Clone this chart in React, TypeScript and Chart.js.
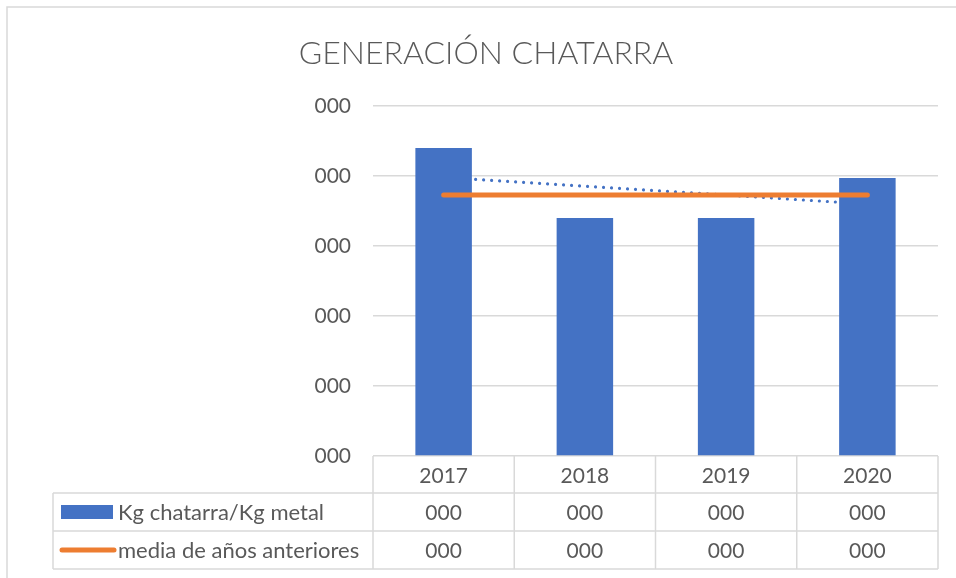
import React, { useEffect, useRef } from "react";
import { Chart, registerables } from "chart.js";

Chart.register(...registerables);

const titleText = "GENERACIÓN CHATARRA";
const categories = ["2017", "2018", "2019", "2020"];
const seriesNames = ["Kg chatarra/Kg metal", "media de años anteriores"];
const scrapValues = [4.4, 3.4, 3.4, 3.97];
const meanValues = [3.73, 3.73, 3.73, 3.73];
const trendValues = [3.98, null, null, 3.6];
const yTickLabel = "000";
const scrapTableLabels = ["000", "000", "000", "000"];
const meanTableLabels = ["000", "000", "000", "000"];

const BLUE = "#4472C4";
const ORANGE = "#ED7D31";
const TEXT = "#595959";
const GRID = "#D9D9D9";
const FONT = "Lato, 'Open Sans', sans-serif";

const tablePlugin = {
  id: "dataTable",
  afterDraw(chart: any) {
    const ctx = chart.ctx as CanvasRenderingContext2D;
    const { left, right, bottom } = chart.chartArea;
    const n = categories.length;
    const colW = (right - left) / n;
    const headerH = 37;
    const rowH = 38;
    const tableLeft = 53;
    const r1 = bottom + headerH;
    const r2 = r1 + rowH;
    const r3 = r2 + rowH;
    ctx.save();
    ctx.strokeStyle = GRID;
    ctx.lineWidth = 1.5;
    const hl = (x1: number, x2: number, y: number) => {
      ctx.beginPath();
      ctx.moveTo(x1, y);
      ctx.lineTo(x2, y);
      ctx.stroke();
    };
    const vl = (x: number, y1: number, y2: number) => {
      ctx.beginPath();
      ctx.moveTo(x, y1);
      ctx.lineTo(x, y2);
      ctx.stroke();
    };
    hl(tableLeft, right, r1);
    hl(tableLeft, right, r2);
    hl(tableLeft, right, r3);
    vl(tableLeft, r1, r3);
    for (let i = 0; i <= n; i++) vl(left + i * colW, bottom, r3);

    // outer chart frame
    ctx.beginPath();
    ctx.moveTo(7, chart.height + 5);
    ctx.lineTo(7, 7);
    ctx.lineTo(chart.width + 5, 7);
    ctx.stroke();

    const c1 = (r1 + r2) / 2 + 1;
    const c2 = (r2 + r3) / 2 + 1;
    // legend keys
    ctx.fillStyle = BLUE;
    ctx.fillRect(tableLeft + 8, c1 - 8, 52, 14);
    ctx.strokeStyle = ORANGE;
    ctx.lineWidth = 5;
    ctx.lineCap = "round";
    hl(tableLeft + 9, tableLeft + 61, c2 - 1);

    ctx.fillStyle = TEXT;
    ctx.textBaseline = "middle";
    ctx.textAlign = "left";
    ctx.font = `22px ${FONT}`;
    ctx.fillText(seriesNames[0], tableLeft + 65, c1);
    ctx.fillText(seriesNames[1], tableLeft + 65, c2);
    ctx.font = `21px ${FONT}`;
    ctx.textAlign = "center";
    for (let i = 0; i < n; i++) {
      const cx = left + (i + 0.5) * colW;
      ctx.fillText(scrapTableLabels[i], cx, c1);
      ctx.fillText(meanTableLabels[i], cx, c2);
    }
    ctx.restore();
  },
};

export default function App() {
  const ref = useRef<HTMLCanvasElement | null>(null);
  useEffect(() => {
    if (!ref.current) return;
    const chart = new Chart(ref.current, {
      type: "bar",
      data: {
        labels: categories,
        datasets: [
          {
            type: "line",
            label: "Lineal (Kg chatarra/Kg metal)",
            data: trendValues as any,
            borderColor: BLUE,
            borderWidth: 3.2,
            borderDash: [0.01, 8],
            borderCapStyle: "round",
            pointRadius: 0,
            spanGaps: true,
            fill: false,
            order: 3,
          } as any,
          {
            type: "bar",
            label: seriesNames[0],
            data: scrapValues,
            backgroundColor: BLUE,
            categoryPercentage: 1,
            barPercentage: 0.4,
            order: 2,
          },
          {
            type: "line",
            label: seriesNames[1],
            data: meanValues,
            borderColor: ORANGE,
            borderWidth: 5,
            borderCapStyle: "round",
            pointRadius: 0,
            fill: false,
            order: 1,
          } as any,
        ],
      },
      options: {
        responsive: false,
        animation: false,
        layout: { padding: { left: 34, right: 18, top: 0, bottom: 0 } },
        plugins: {
          legend: { display: false },
          tooltip: { enabled: false },
          title: {
            display: true,
            text: titleText,
            color: TEXT,
            font: { family: FONT, size: 32, weight: 300 as any, lineHeight: 1.2 },
            padding: { top: 34, bottom: 33.6 },
          },
        },
        scales: {
          x: {
            grid: { display: false },
            border: { display: false },
            ticks: {
              color: TEXT,
              font: { family: FONT, size: 21 },
              padding: 0,
              maxRotation: 0,
            },
            afterFit: (scale: any) => {
              scale.height = 122;
            },
          },
          y: {
            min: 0,
            max: 5,
            grid: { color: GRID, lineWidth: 1.5, drawTicks: false },
            border: { display: false },
            ticks: {
              stepSize: 1,
              color: TEXT,
              font: { family: FONT, size: 21 },
              padding: 22,
              callback: () => yTickLabel,
            },
            afterFit: (scale: any) => {
              scale.width = 339;
            },
          },
        },
      },
      plugins: [tablePlugin],
    });
    return () => chart.destroy();
  }, []);
  return (
    <div style={{ position: "absolute", left: 0, top: 0, width: 956, height: 578, background: "#fff" }}>
      <canvas ref={ref} width={956} height={578} style={{ width: 956, height: 578 }} />
    </div>
  );
}
